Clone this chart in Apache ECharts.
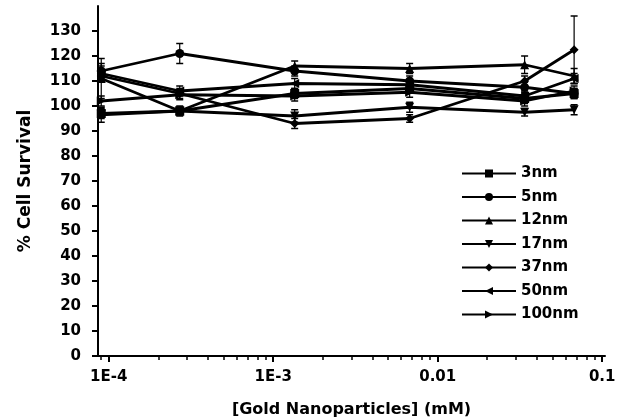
<!DOCTYPE html>
<html>
<head>
<meta charset="utf-8">
<script src="https://cdn.jsdelivr.net/npm/echarts@6/dist/echarts.min.js"></script>
<style>
  html, body { margin: 0; padding: 0; background: #fff; }
  #chart { width: 621px; height: 419px; }
</style>
</head>
<body>
<div id="chart"></div>
<script>
// concentrations (mM)
var conc = [9e-5, 2.7e-4, 1.35e-3, 6.75e-3, 0.03375, 0.0675];
var names = ['3nm', '5nm', '12nm', '17nm', '37nm', '50nm', '100nm'];

// % cell survival per particle size
var s3nm   = [97, 98, 105, 107, 103, 105];
var s5nm   = [114, 121, 114, 110, 107.5, 105];
var s12nm  = [111, 98, 116, 115, 116.5, 112];
var s17nm  = [96.5, 98, 96, 99.5, 97.5, 98.5];
var s37nm  = [112, 105, 93, 95, 110, 122.5];
var s50nm  = [113, 106, 109, 108.5, 104, 111];
var s100nm = [102, 104.5, 104, 105.5, 102, 106];

// error bars (+/-)
var e3nm   = [2, 1.5, 2, 1.5, 2, 2];
var e5nm   = [3, 4, 2, 2, 2, 2];
var e12nm  = [8, 2, 2, 2, 3.5, 3];
var e17nm  = [3, 1.5, 2.5, 2, 1.5, 2];
var e37nm  = [2, 2, 2, 1.5, 2, 13.5];
var e50nm  = [3, 2, 2, 2, 2, 2];
var e100nm = [2, 2, 2, 2, 2, 2];

var yTicks = [0, 10, 20, 30, 40, 50, 60, 70, 80, 90, 100, 110, 120, 130];
var xTicks = [1e-4, 1e-3, 0.01, 0.1];
var xLabels = ['1E-4', '1E-3', '0.01', '0.1'];

var values = [s3nm, s5nm, s12nm, s17nm, s37nm, s50nm, s100nm];
var errors = [e3nm, e5nm, e12nm, e17nm, e37nm, e50nm, e100nm];
var symbols = [
  'rect', 'circle', 'triangle',
  'path://M0,0 L10,0 L5,10 Z',
  'diamond',
  'path://M0,5 L10,0 L10,10 Z',
  'path://M0,0 L10,5 L0,10 Z'
];

// minor ticks 2..9 per decade
var minorTicks = [9e-5];
[1e-4, 1e-3, 1e-2].forEach(function (d) {
  for (var k = 2; k <= 9; k++) minorTicks.push(k * d);
});

var font = 'DejaVu Sans';
var xMin = 8.6e-5, xMax = 0.104;

var series = [];
var errData = [];
for (var i = 0; i < names.length; i++) {
  var pts = [];
  for (var j = 0; j < conc.length; j++) {
    pts.push([conc[j], values[i][j]]);
    errData.push([conc[j], values[i][j] - errors[i][j], values[i][j] + errors[i][j]]);
  }
  series.push({
    name: names[i],
    type: 'line',
    data: pts,
    symbol: symbols[i],
    symbolSize: 9,
    lineStyle: { color: '#000', width: 2.8 },
    itemStyle: { color: '#000' },
    z: 3
  });
}

series.push({
  type: 'custom',
  data: errData,
  z: 2,
  renderItem: function (params, api) {
    var x = api.value(0);
    var lo = api.coord([x, api.value(1)]);
    var hi = api.coord([x, api.value(2)]);
    var w = 3.5;
    return {
      type: 'group',
      children: [
        { type: 'line', shape: { x1: lo[0], y1: lo[1], x2: hi[0], y2: hi[1] }, style: { stroke: '#000', lineWidth: 1.2 } },
        { type: 'line', shape: { x1: lo[0] - w, y1: lo[1], x2: lo[0] + w, y2: lo[1] }, style: { stroke: '#000', lineWidth: 1.5 } },
        { type: 'line', shape: { x1: hi[0] - w, y1: hi[1], x2: hi[0] + w, y2: hi[1] }, style: { stroke: '#000', lineWidth: 1.5 } }
      ]
    };
  }
});

var chart = echarts.init(document.getElementById('chart'));
chart.setOption({
  animation: false,
  backgroundColor: '#fff',
  grid: { left: 98, right: 16, top: 6, bottom: 63, outerBoundsMode: 'none' },
  legend: {
    orient: 'vertical',
    left: 456,
    top: 161,
    itemWidth: 54,
    itemHeight: 10,
    itemGap: 8.5,
    data: names,
    textStyle: { fontFamily: font, fontWeight: 'bold', fontSize: 15, color: '#000' }
  },
  xAxis: [{
    type: 'log',
    logBase: 10,
    min: xMin,
    max: xMax,
    name: '[Gold Nanoparticles] (mM)',
    nameLocation: 'middle',
    nameGap: 46,
    nameTextStyle: { fontFamily: font, fontWeight: 'bold', fontSize: 16, color: '#000' },
    axisLine: { lineStyle: { color: '#000', width: 2 } },
    axisTick: { inside: false, length: 6, customValues: xTicks, lineStyle: { color: '#000', width: 2 } },
    axisLabel: {
      customValues: xTicks,
      margin: 14,
      fontFamily: font, fontWeight: 'bold', fontSize: 15, color: '#000',
      formatter: function (v) {
        for (var k = 0; k < xTicks.length; k++) {
          if (Math.abs(Math.log10(v) - Math.log10(xTicks[k])) < 1e-6) return xLabels[k];
        }
        return '';
      }
    },
    splitLine: { show: false }
  }, {
    type: 'log',
    logBase: 10,
    min: xMin,
    max: xMax,
    position: 'bottom',
    axisLine: { show: false },
    axisTick: { length: 4, customValues: minorTicks, lineStyle: { color: '#000', width: 1.5 } },
    axisLabel: { show: false },
    splitLine: { show: false }
  }],
  yAxis: {
    type: 'value',
    min: 0,
    max: 140,
    name: '% Cell Survival',
    nameLocation: 'middle',
    nameGap: 64,
    nameTextStyle: { fontFamily: font, fontWeight: 'bold', fontSize: 17, color: '#000' },
    axisLine: { show: true, lineStyle: { color: '#000', width: 2 } },
    axisTick: { show: true, length: 6, customValues: yTicks, lineStyle: { color: '#000', width: 2 } },
    axisLabel: {
      customValues: yTicks,
      margin: 17,
      fontFamily: font, fontWeight: 'bold', fontSize: 15, color: '#000'
    },
    splitLine: { show: false }
  },
  series: series
});
</script>
</body>
</html>
